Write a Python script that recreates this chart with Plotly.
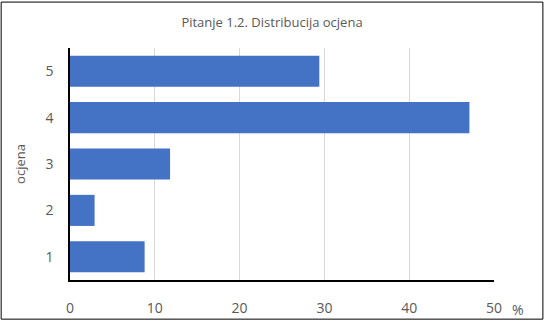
import plotly.graph_objects as go

categories = ["1", "2", "3", "4", "5"]
values = [8.8, 2.9, 11.8, 47.1, 29.4]
x_ticks = [0, 10, 20, 30, 40, 50]

W, H = 544, 329
L, R, T, B = 69.5, 49.5, 48, 41
pw, ph = W - L - R, H - T - B

font = "Open Sans, Liberation Sans, sans-serif"
grey = "#595959"

fig = go.Figure(go.Bar(
    y=categories, x=values, orientation="h",
    marker=dict(color="#4472C4", line=dict(width=0)),
))

fig.update_layout(
    width=W, height=H,
    margin=dict(l=L, r=R, t=T, b=B, pad=0),
    paper_bgcolor="white", plot_bgcolor="white",
    bargap=0.33,
    showlegend=False,
    font=dict(family=font, color=grey, size=13),
    title=dict(text="Pitanje 1.2. Distribucija ocjena", x=0.5, xanchor="center",
               y=1 - 22 / H, yanchor="middle", font=dict(size=13, color=grey)),
    xaxis=dict(range=[0, 50], tickvals=x_ticks, showgrid=True, gridcolor="#d9d9d9",
               gridwidth=1, zeroline=False, showline=True, linecolor="black",
               linewidth=1.5, ticks="outside", ticklen=14, tickcolor="rgba(0,0,0,0)",
               tickfont=dict(size=14, color=grey),
               fixedrange=True),
    yaxis=dict(showgrid=False, showline=True, linecolor="black", linewidth=1.5,
               ticks="outside", ticklen=12, tickcolor="rgba(0,0,0,0)",
               tickfont=dict(size=14, color=grey),
               title=dict(text="ocjena", font=dict(size=13, color=grey), standoff=17),
               fixedrange=True),
    annotations=[dict(text="%", xref="paper", yref="paper",
                      x=(519 - L) / pw, y=(H - B - 318) / ph,
                      xanchor="center", yanchor="middle", showarrow=False,
                      font=dict(size=14, color=grey))],
    shapes=[dict(type="rect", xref="paper", yref="paper",
                 x0=(0.5 - L) / pw, x1=(W - 0.5 - L) / pw,
                 y0=(H - B - (H - 0.5)) / ph, y1=(H - B - 0.5) / ph,
                 line=dict(color="black", width=1), fillcolor="rgba(0,0,0,0)",
                 layer="above")],
)

fig.write_html("out.html")
